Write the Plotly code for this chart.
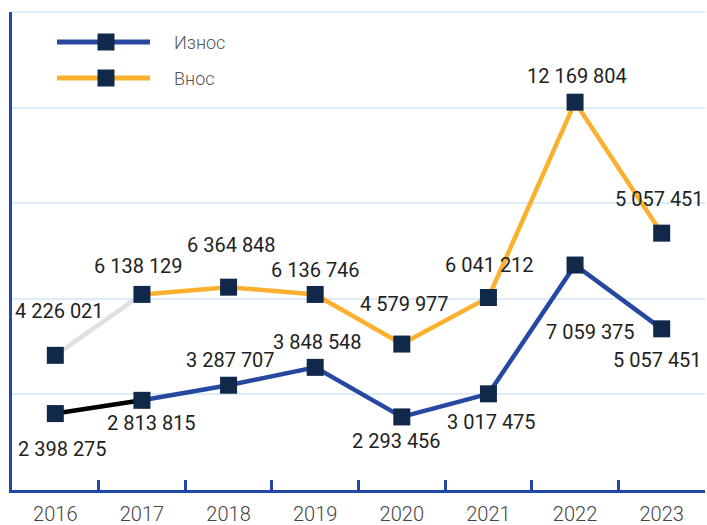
import plotly.graph_objects as go

years = ["2016", "2017", "2018", "2019", "2020", "2021", "2022", "2023"]
iznos = [2398275, 2813815, 3287707, 3848548, 2293456, 3017475, 7059375, 5057451]
vnos = [4226021, 6138129, 6364848, 6136746, 4579977, 6041212, 12169804, 8060000]
iznos_labels = ["2 398 275", "2 813 815", "3 287 707", "3 848 548", "2 293 456", "3 017 475", "7 059 375", "5 057 451"]
vnos_labels = ["4 226 021", "6 138 129", "6 364 848", "6 136 746", "4 579 977", "6 041 212", "12 169 804", "5 057 451"]
series_names = ["Износ", "Внос"]

# label offsets in pixels (dx right, dy down)
iznos_off = [(7, 35), (10, 23), (2, -25), (2, -25), (-5, 24), (3, 28), (15, 67), (-4, 31)]
vnos_off = [(4, -44), (-3, -28), (3, -42), (0, -24), (3, -40), (1, -32), (2, -26), (-2, -34)]

BLUE = "#2748a0"
ORANGE = "#fbb12f"
NAVY = "#10284a"
AXIS = "#2148a8"
GRID = "#dcedf7"
FONT = "Roboto"

xi = list(range(len(years)))

fig = go.Figure()

# first segments
fig.add_trace(go.Scatter(x=xi[:2], y=vnos[:2], mode="lines",
                         line=dict(color="#e0e0e0", width=4.5), hoverinfo="skip", showlegend=False))
fig.add_trace(go.Scatter(x=xi[1:], y=vnos[1:], mode="lines",
                         line=dict(color=ORANGE, width=4.5), hoverinfo="skip", showlegend=False))
fig.add_trace(go.Scatter(x=xi[:2], y=iznos[:2], mode="lines",
                         line=dict(color="#000000", width=4.5), hoverinfo="skip", showlegend=False))
fig.add_trace(go.Scatter(x=xi[1:], y=iznos[1:], mode="lines",
                         line=dict(color=BLUE, width=4.5), hoverinfo="skip", showlegend=False))
for vals, nm in [(vnos, series_names[1]), (iznos, series_names[0])]:
    fig.add_trace(go.Scatter(x=xi, y=vals, mode="markers", name=nm,
                             marker=dict(symbol="square", size=17, color=NAVY, line=dict(width=0)),
                             showlegend=False))

annotations = []
for vals, labs, offs in [(iznos, iznos_labels, iznos_off), (vnos, vnos_labels, vnos_off)]:
    for i, v, lab, (dx, dy) in zip(xi, vals, labs, offs):
        annotations.append(dict(x=i, y=v, xref="x", yref="y", text=lab, showarrow=False,
                                xanchor="center", yanchor="middle", xshift=dx, yshift=-dy,
                                font=dict(family=FONT, size=20, color="#222222")))

# manual legend
L, T, W, H = 12, 12, 693, 478
def px(x):
    return (x - L) / W
def py(y):
    return (T + H - y) / H

shapes = [dict(type="line", xref="paper", yref="paper", x0=0, x1=1, y0=1, y1=1,
               line=dict(color=GRID, width=2), layer="below")]
for i, (nm, col) in enumerate(zip(series_names, [BLUE, ORANGE])):
    yy = 42 + 36 * i
    shapes.append(dict(type="line", xref="paper", yref="paper", x0=px(57), x1=px(150),
                       y0=py(yy), y1=py(yy), line=dict(color=col, width=5), layer="above"))
    shapes.append(dict(type="rect", xref="paper", yref="paper", x0=px(97.5), x1=px(114.5),
                       y0=py(yy + 8.5), y1=py(yy - 8.5), fillcolor=NAVY, line=dict(width=0), layer="above"))
    annotations.append(dict(x=px(172), y=py(yy + 1), xref="paper", yref="paper", text=nm,
                            showarrow=False, xanchor="left", yanchor="middle",
                            font=dict(family=FONT, size=18, color="#555555", weight=300)))

fig.update_layout(
    width=707, height=525,
    margin=dict(l=12, r=2, t=12, b=35, autoexpand=False),
    paper_bgcolor="white", plot_bgcolor="white",
    showlegend=False,
    annotations=annotations,
    shapes=shapes,
    xaxis=dict(range=[-0.5, 7.5], showgrid=False, zeroline=False, automargin=False,
               tickvals=xi, ticktext=years,
               showline=True, linecolor=AXIS, linewidth=2.5, ticks="",
               ticklabelstandoff=4,
               tickfont=dict(family=FONT, size=20, color="#444444", weight=300),
               minor=dict(tickvals=[k + 0.5 for k in xi[:-1]], ticks="inside", ticklen=10,
                          tickwidth=2.5, tickcolor=AXIS, showgrid=False)),
    yaxis=dict(range=[0, 15000000], dtick=3000000, showgrid=True, gridcolor=GRID, gridwidth=2,
               automargin=False,
               showticklabels=False, zeroline=False, showline=True, linecolor=AXIS, linewidth=2.5,
               ticks=""),
)

fig.write_html("out.html", config={"displayModeBar": False},
               post_script="document.body.style.margin='0';document.body.style.padding='0';")
